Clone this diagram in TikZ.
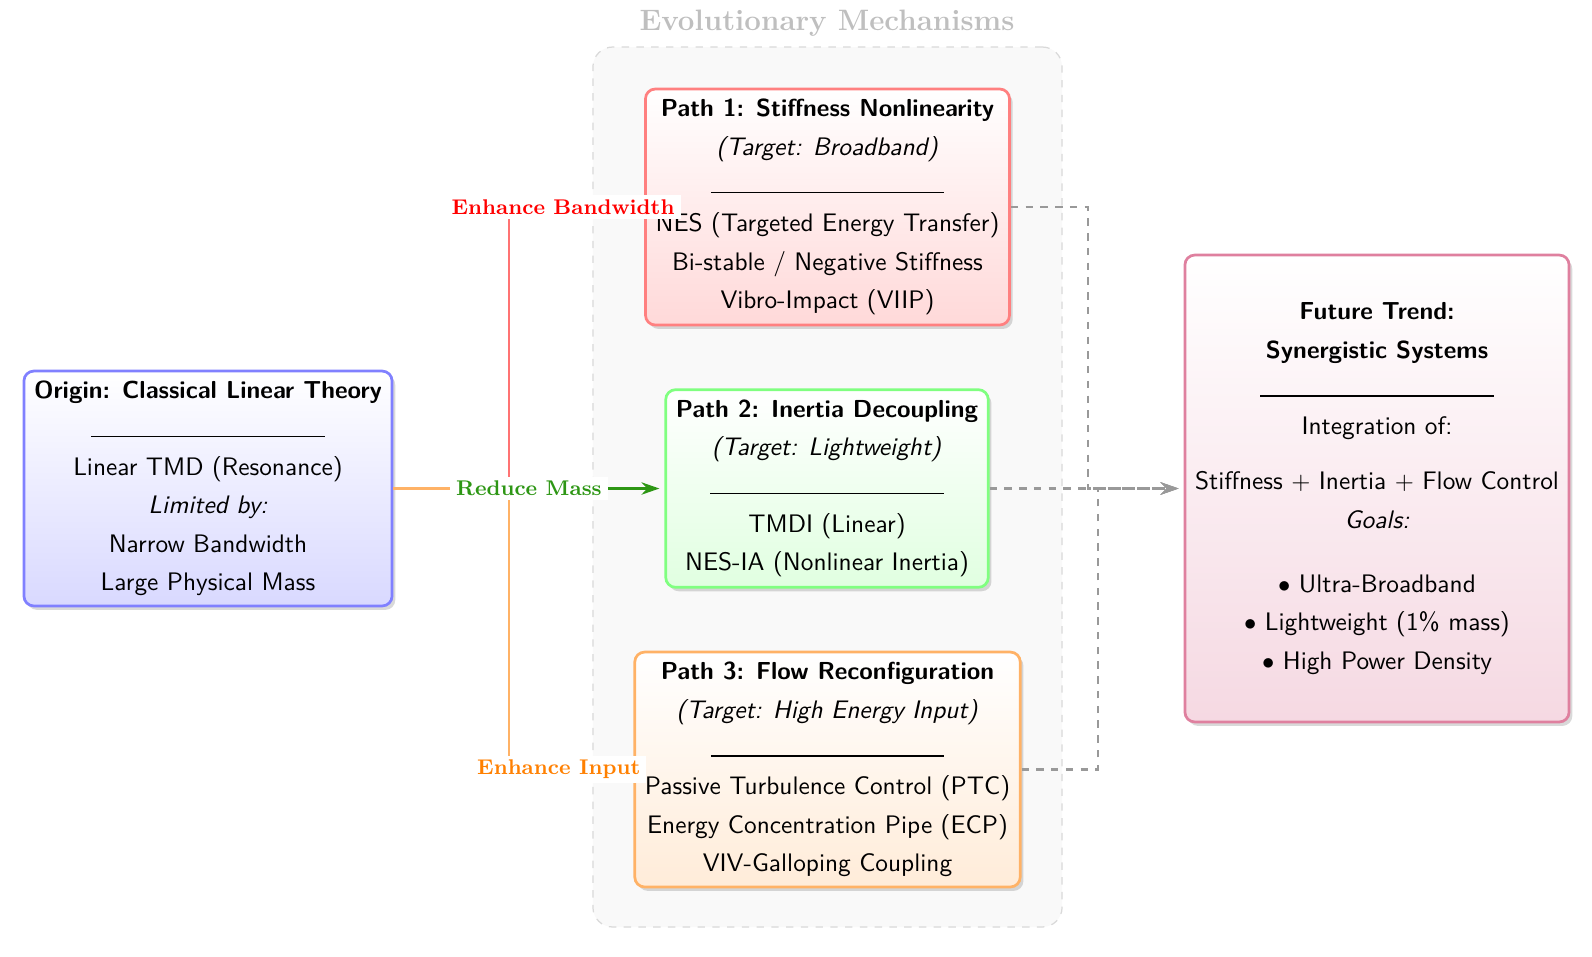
\documentclass[tikz,border=0pt]{standalone}
\usetikzlibrary{shadows,arrows.meta,calc}
\definecolor{arrowgreen}{RGB}{45,150,20}
\newcommand{\ttl}[1]{{\fontsize{10}{15.6}\selectfont\bfseries #1}}
\newcommand{\seprule}{\rule{94.9pt}{0.5pt}}
\begin{document}
\begin{tikzpicture}[x=0.4065pt,y=-0.4065pt,
  box/.style={draw, line width=1.1pt, rounded corners=4pt, align=center, inner sep=4.1pt,
    font=\sffamily\fontsize{10.3}{15.6}\selectfont,
    drop shadow={shadow xshift=1.3pt, shadow yshift=-1.6pt, opacity=0.3}},
  lbl/.style={fill=white, font=\fontsize{8.65}{11}\selectfont\bfseries, inner xsep=2.5pt, inner ysep=1.7pt},
  conn/.style={line width=1.15pt, -{Stealth[length=7.3pt,width=5pt]}, shorten >=2pt},
  dashconn/.style={conn, dashed, gray!80, line width=1.2pt},
  container/.style={draw=gray!30, dashed, fill=gray!5, rounded corners=8pt, line width=0.5pt}
]
\useasboundingbox (0,0) rectangle (1592,956);

\node[container, minimum width=190.7pt, minimum height=357.7pt] (group) at (827.5,487) {};
\node[anchor=base, text=gray!50, font=\fontsize{12}{14.5}\selectfont\bfseries] (title) at (827,30) {Evolutionary Mechanisms};

\node[box, draw=blue!50, top color=white, bottom color=blue!15] (origin) at (208,488.5)
 {\ttl{Origin: Classical Linear Theory}\\ \seprule\\ Linear TMD (Resonance)\\ \textit{Limited by:}\\ Narrow Bandwidth\\ Large Physical Mass};

\node[box, draw=red!50, top color=white, bottom color=red!15] (p1) at (827.5,207)
 {\ttl{Path 1: Stiffness Nonlinearity}\\ \textit{(Target: Broadband)}\\ \seprule\\ NES (Targeted Energy Transfer)\\ Bi-stable / Negative Stiffness\\ Vibro-Impact (VIIP)};

\node[box, draw=green!50, top color=white, bottom color=green!12] (p2) at (827,488.5)
 {\ttl{Path 2: Inertia Decoupling}\\ \textit{(Target: Lightweight)}\\ \seprule\\ TMDI (Linear)\\ NES-IA (Nonlinear Inertia)};

\node[box, draw=orange!60, top color=white, bottom color=orange!15] (p3) at (827.5,769.5)
 {\ttl{Path 3: Flow Reconfiguration}\\ \textit{(Target: High Energy Input)}\\ \seprule\\ Passive Turbulence Control (PTC)\\ Energy Concentration Pipe (ECP)\\ VIV-Galloping Coupling};

\node[box, draw=purple!50, top color=white, bottom color=purple!15, minimum height=189.8pt] (future) at (1377,488.5)
 {\ttl{Future Trend:}\\ \ttl{Synergistic Systems}\\ \seprule\\ Integration of:\\[6.75pt] Stiffness $+$ Inertia $+$ Flow Control\\ \textit{Goals:}\\[10.4pt] $\bullet$ Ultra-Broadband\\ $\bullet$ Lightweight (1\% mass)\\ $\bullet$ High Power Density};

% connectors from origin
\coordinate (split) at (509,488.5);
\draw[conn, arrowgreen] (origin.east) -- (p2.west);
\draw[conn, red!55] (origin.east) -- (split) |- (p1.west) node[lbl, text=red, pos=0.7] {Enhance Bandwidth};
\draw[conn, orange!60] (origin.east) -- (split) |- (p3.west) node[lbl, text=orange, pos=0.7] {Enhance Input};
\path (origin.east) -- (p2.west) node[lbl, text=arrowgreen, midway] {Reduce Mass};

% connectors to future
\coordinate (j1) at (1088,488.5);
\coordinate (j3) at (1098,488.5);
\draw[dashconn] (p1.east) -| (j1) -- (future.west);
\draw[dashconn] (p3.east) -| (j3) -- (future.west);
\draw[dashconn] (p2.east) -- (future.west);
\end{tikzpicture}
\end{document}
